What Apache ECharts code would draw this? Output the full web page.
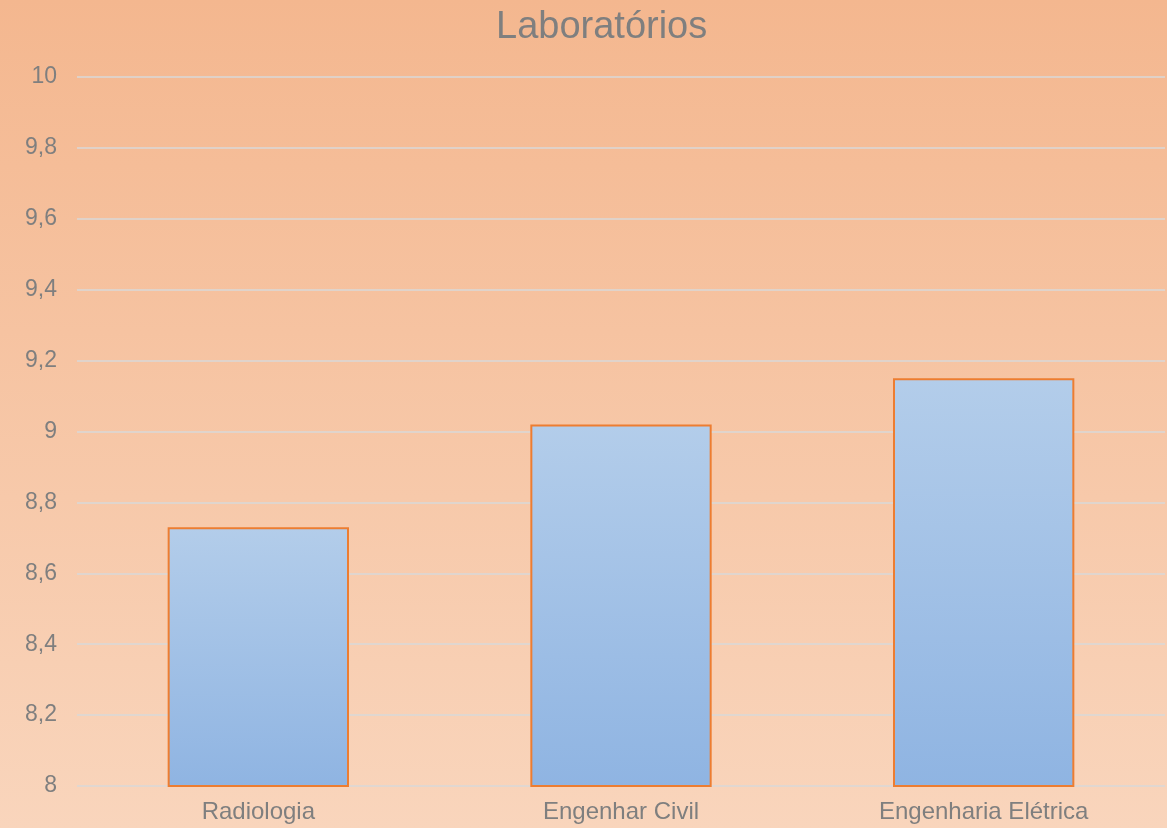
<!DOCTYPE html>
<html>
<head>
<meta charset="utf-8">
<script src="https://cdn.jsdelivr.net/npm/echarts@6/dist/echarts.min.js"></script>
<style>
html,body{margin:0;padding:0;}
#c{width:1167px;height:828px;background:linear-gradient(to bottom,#F4B78F 0%,#F9D5BC 100%);}
</style>
</head>
<body>
<div id="c"></div>
<script>
var categories = ['Radiologia', 'Engenhar Civil', 'Engenharia Elétrica'];
var values = [8.73, 9.02, 9.15];
var titleText = 'Laboratórios';

var chart = echarts.init(document.getElementById('c'), null, {renderer: 'canvas'});
chart.setOption({
  backgroundColor: 'transparent',
  animation: false,
  title: {
    text: titleText,
    left: 491,
    top: 4,
    textStyle: {fontFamily: 'Liberation Sans, Arial', fontSize: 38, fontWeight: 'normal', color: '#7F7F7F'}
  },
  grid: {left: 77, right: 2, top: 77, bottom: 42, containLabel: false},
  xAxis: {
    type: 'category',
    data: categories,
    axisLine: {show: false},
    axisTick: {show: false},
    axisLabel: {fontFamily: 'Liberation Sans, Arial', fontSize: 24, color: '#7F7F7F', margin: 14}
  },
  yAxis: {
    type: 'value',
    min: 8,
    max: 10,
    interval: 0.2,
    axisLine: {show: false},
    axisTick: {show: false},
    splitLine: {lineStyle: {color: '#D9D9D9', width: 1.5}},
    axisLabel: {
      fontFamily: 'Liberation Sans, Arial', fontSize: 23, color: '#7F7F7F', margin: 20,
      formatter: function (v) { return String(Math.round(v * 10) / 10).replace('.', ','); }
    }
  },
  series: [{
    type: 'bar',
    data: values,
    barWidth: '50%',
    itemStyle: {
      color: new echarts.graphic.LinearGradient(0, 0, 0, 1, [
        {offset: 0, color: '#B3CDEA'},
        {offset: 1, color: '#8FB4E2'}
      ]),
      borderColor: '#ED7D31',
      borderWidth: 2
    }
  }]
});
</script>
</body>
</html>
